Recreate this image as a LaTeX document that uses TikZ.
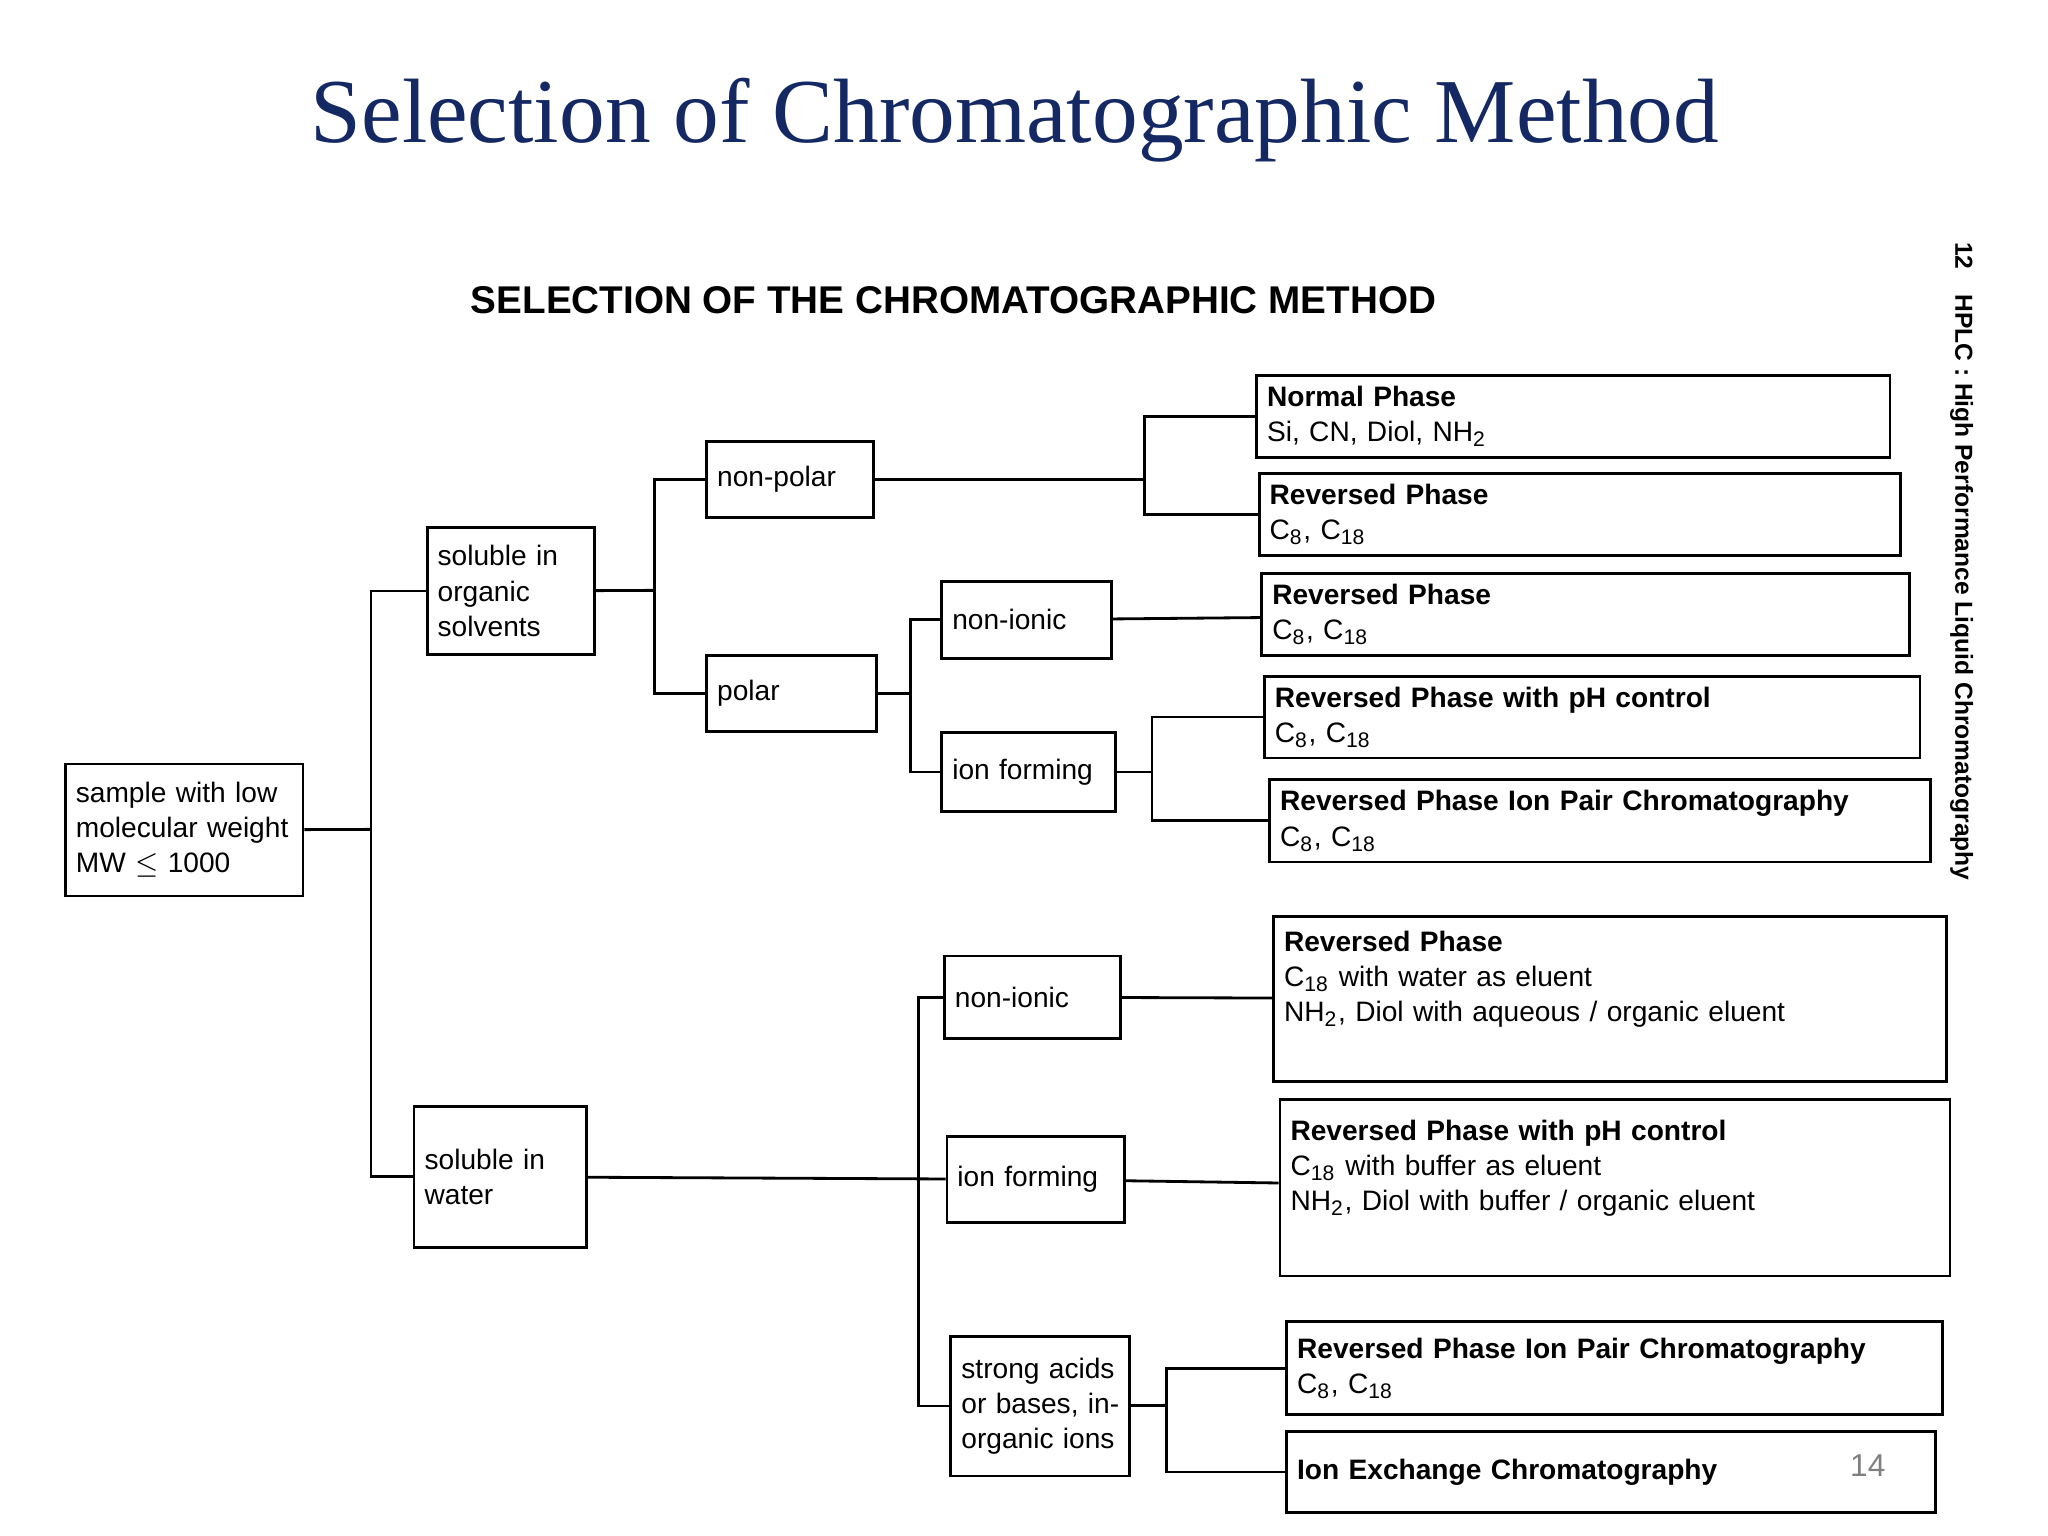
\documentclass[tikz,border=0pt]{standalone}
\usepackage{fontspec}
\setmainfont{Liberation Sans}
\newfontfamily\titlefont{Liberation Serif}
\usetikzlibrary{positioning}
\newcommand{\sub}[1]{\textsubscript{#1}}
\tikzset{
  box/.style={draw, thick, inner sep=3pt, align=left, font=\fontsize{8}{10}\selectfont},
  res/.style={box, font=\fontsize{8}{10}\selectfont},
  link/.style={thick}
}
% box from pixel corners
\newcommand{\bx}[7][box]{%
  \node[#1, minimum width={(#5-#3)*0.01306cm}, minimum height={(#6-#4)*0.01306cm},
        text width={(#5-#3)*0.01306cm-6pt}] (#2) at ({(#3+#5)/2},{(#4+#6)/2}) {#7};}
\begin{document}
\begin{tikzpicture}[x=0.01306cm, y=-0.01306cm]
  \useasboundingbox[fill=white] (0,0) rectangle (1568,1176);

  % Titles
  \node[font=\titlefont\fontsize{26}{30}\selectfont, text={rgb,255:red,20;green,40;blue,100}] (title) at (777,92) {Selection of Chromatographic Method};
  \node[font=\bfseries\fontsize{11}{13}\selectfont] (sub) at (730,230) {SELECTION OF THE CHROMATOGRAPHIC METHOD};
  \node[font=\bfseries\fontsize{7}{9}\selectfont, rotate=-90, anchor=west] (side) at (1502,176) {12\quad HPLC : High Performance Liquid Chromatography};
  \node[text=gray, font=\fontsize{9}{11}\selectfont] (page) at (1430,1122) {14};

  % Left tree
  \bx{smp}{50}{585}{232}{686}{sample with low\\molecular weight\\MW $\leq$ 1000}
  \bx{org}{327}{404}{455}{501}{soluble in\\organic\\solvents}
  \bx{wat}{317}{847}{449}{955}{soluble in\\water}
  \bx{npol}{541}{338}{669}{396}{non-polar}
  \bx{pol}{541}{502}{671}{560}{polar}
  \bx{nion1}{721}{445}{851}{504}{non-ionic}
  \bx{ionf1}{721}{561}{854}{621}{ion forming}
  \bx{nion2}{723}{732}{858}{795}{non-ionic}
  \bx{ionf2}{725}{870}{861}{936}{ion forming}
  \bx{acid}{728}{1023}{865}{1130}{strong acids\\or bases, in-\\organic ions}

  % Results
  \bx[res]{rNP}{962}{288}{1447}{350}{\textbf{Normal Phase}\\Si, CN, Diol, NH\sub{2}}
  \bx[res]{rRP1}{964}{364}{1455}{424}{\textbf{Reversed Phase}\\C\sub{8}, C\sub{18}}
  \bx[res]{rRP2}{966}{440}{1462}{501}{\textbf{Reversed Phase}\\C\sub{8}, C\sub{18}}
  \bx[res]{rPH1}{968}{518}{1470}{580}{\textbf{Reversed Phase with pH control}\\C\sub{8}, C\sub{18}}
  \bx[res]{rIP1}{972}{597}{1478}{660}{\textbf{Reversed Phase Ion Pair Chromatography}\\C\sub{8}, C\sub{18}}
  \bx[res]{rRP3}{975}{702}{1490}{828}{\textbf{Reversed Phase}\\C\sub{18} with water as eluent\\NH\sub{2}, Diol with aqueous / organic eluent\\\strut}
  \bx[res]{rPH2}{980}{842}{1493}{977}{\textbf{Reversed Phase with pH control}\\C\sub{18} with buffer as eluent\\NH\sub{2}, Diol with buffer / organic eluent\\\strut}
  \bx[res]{rIP2}{985}{1012}{1487}{1083}{\textbf{Reversed Phase Ion Pair Chromatography}\\C\sub{8}, C\sub{18}}
  \bx[res]{rIEX}{985}{1096}{1482}{1158}{\textbf{Ion Exchange Chromatography}}

  % Junctions
  \coordinate (j1) at (284,635);
  \coordinate (j2) at (501,452);
  \coordinate (j3) at (876,367);
  \coordinate (j4) at (697,531);
  \coordinate (j5) at (882,591);
  \coordinate (j6) at (703,901);
  \coordinate (j7) at (893,1076);

  % Connectors
  \draw[link] (smp) -- (j1);
  \draw[link] (org.west) -| (j1) |- (wat.west);
  \draw[link] (org) -- (j2);
  \draw[link] (npol.west) -| (j2) |- (pol.west);
  \draw[link] (npol) -- (j3);
  \draw[link] (rNP.west) -| (j3) |- (rRP1.west);
  \draw[link] (pol) -- (j4);
  \draw[link] (nion1.west) -| (j4) |- (ionf1.west);
  \draw[link] (nion1) -- (rRP2);
  \draw[link] (ionf1) -- (j5);
  \draw[link] (rPH1.west) -| (j5) |- (rIP1.west);
  \draw[link] (wat) -- (ionf2);
  \draw[link] (nion2.west) -| (j6) |- (acid.west);
  \draw[link] (nion2) -- (rRP3);
  \draw[link] (ionf2) -- (rPH2);
  \draw[link] (acid) -- (j7);
  \draw[link] (rIP2.west) -| (j7) |- (rIEX.west);
\end{tikzpicture}
\end{document}
